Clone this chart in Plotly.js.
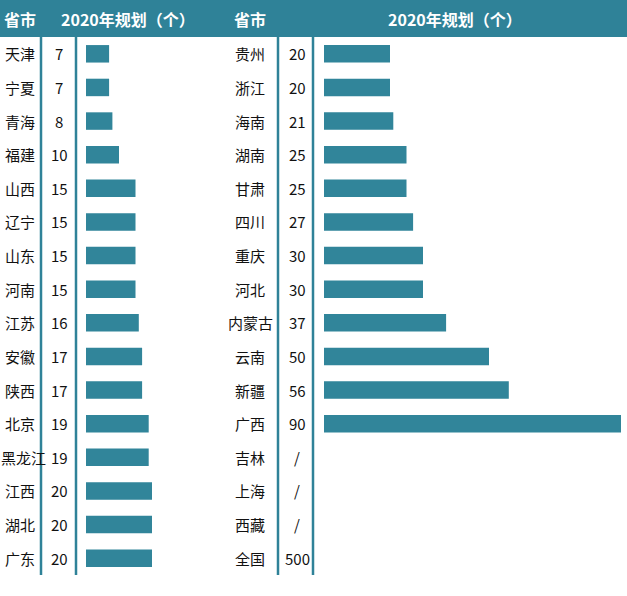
<!DOCTYPE html>
<html>
<head>
<meta charset="utf-8">
<script src="https://cdn.plot.ly/plotly-3.0.1.min.js"></script>
<style>
  html, body { margin: 0; padding: 0; background: #fff; }
  #chart { width: 627px; height: 596px; }
</style>
</head>
<body>
<div id="chart"></div>
<script>
// left half of the table
const leftProvinces = ['天津', '宁夏', '青海', '福建', '山西', '辽宁', '山东', '河南',
  '江苏', '安徽', '陕西', '北京', '黑龙江', '江西', '湖北', '广东'];
const leftValues = [7, 7, 8, 10, 15, 15, 15, 15, 16, 17, 17, 19, 19, 20, 20, 20];

// right half of the table (null = "/", 全国 is the national total, no bar)
const rightProvinces = ['贵州', '浙江', '海南', '湖南', '甘肃', '四川', '重庆', '河北',
  '内蒙古', '云南', '新疆', '广西', '吉林', '上海', '西藏', '全国'];
const rightValues = [20, 20, 21, 25, 25, 27, 30, 30, 37, 50, 56, 90, null, null, null, 500];

const headerLabels = ['省市', '2020年规划（个）', '省市', '2020年规划（个）'];

const W = 627, H = 596;
const teal = '#2f8298';
const barColor = '#31859a';
const px = x => x / W;
const py = y => 1 - y / H;

const rowTop = 37, rowBottom = 575;
const scale = 3.3; // pixels per unit
const fs = 15;

const leftBars = {
  type: 'bar', orientation: 'h',
  x: leftValues, y: leftProvinces,
  xaxis: 'x', yaxis: 'y',
  marker: { color: barColor },
  width: 0.52, hoverinfo: 'none'
};

const rightBars = {
  type: 'bar', orientation: 'h',
  x: rightValues.map((v, i) => rightProvinces[i] === '全国' ? null : v),
  y: rightProvinces,
  xaxis: 'x2', yaxis: 'y2',
  marker: { color: barColor },
  width: 0.52, hoverinfo: 'none'
};

const txtFont = { family: 'Noto Sans CJK SC, sans-serif', size: fs, color: '#111' };
const annotations = [];
leftProvinces.forEach((p, i) => {
  // keep long names (黑龙江) inside the page edge
  const cx = Math.max(20, p.length * fs / 2 + 1);
  annotations.push({ xref: 'paper', yref: 'y', x: px(cx), y: p, text: p, showarrow: false, font: txtFont, xanchor: 'center' });
  annotations.push({ xref: 'paper', yref: 'y', x: px(59), y: p, text: String(leftValues[i]), showarrow: false, font: txtFont, xanchor: 'center' });
});
rightProvinces.forEach((p, i) => {
  const v = rightValues[i];
  annotations.push({ xref: 'paper', yref: 'y2', x: px(250), y: p, text: p, showarrow: false, font: txtFont, xanchor: 'center' });
  annotations.push({ xref: 'paper', yref: 'y2', x: px(297), y: p, text: v == null ? '/' : String(v), showarrow: false, font: txtFont, xanchor: 'center' });
});

// header texts
const headerX = [20, 128, 250, 455];
headerLabels.forEach((t, i) => {
  annotations.push({
    xref: 'paper', yref: 'paper', x: px(headerX[i]), y: py(18.5), text: '<b>' + t + '</b>',
    showarrow: false, xanchor: 'center', yanchor: 'middle',
    font: { family: 'Noto Sans CJK SC, sans-serif', size: 16, color: '#fff' }
  });
});

const shapes = [{
  type: 'rect', xref: 'paper', yref: 'paper',
  x0: 0, x1: 1, y0: py(rowTop), y1: 1,
  fillcolor: teal, line: { width: 0 }, layer: 'below'
}];
[41, 76, 278, 313].forEach(x => {
  shapes.push({
    type: 'line', xref: 'paper', yref: 'paper',
    x0: px(x), x1: px(x), y0: py(rowBottom), y1: py(rowTop),
    line: { color: teal, width: 2.5 }
  });
});

const yDomain = [py(rowBottom), py(rowTop)];
const hiddenAxis = { showgrid: false, zeroline: false, showticklabels: false, showline: false, ticks: '' };

const layout = {
  width: W, height: H,
  margin: { l: 0, r: 0, t: 0, b: 0 },
  paper_bgcolor: '#fff', plot_bgcolor: 'rgba(0,0,0,0)',
  showlegend: false,
  xaxis: Object.assign({ domain: [px(86), px(200)], range: [0, (200 - 86) / scale], anchor: 'y' }, hiddenAxis),
  xaxis2: Object.assign({ domain: [px(324), 1], range: [0, (W - 324) / scale], anchor: 'y2' }, hiddenAxis),
  yaxis: Object.assign({ domain: yDomain, type: 'category', autorange: 'reversed', anchor: 'x' }, hiddenAxis),
  yaxis2: Object.assign({ domain: yDomain, type: 'category', autorange: 'reversed', anchor: 'x2' }, hiddenAxis),
  shapes: shapes,
  annotations: annotations
};

Plotly.newPlot('chart', [leftBars, rightBars], layout, { displayModeBar: false, staticPlot: true });
</script>
</body>
</html>
